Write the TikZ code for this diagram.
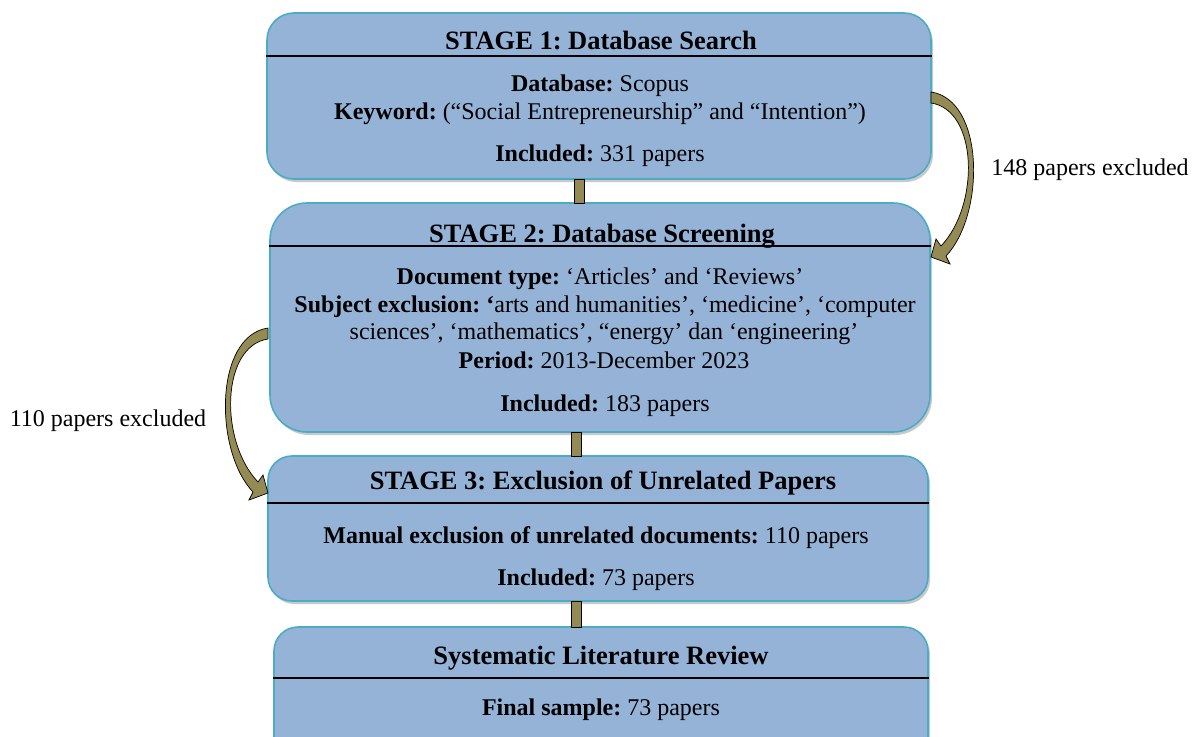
\documentclass[tikz,border=0pt]{standalone}
\usepackage{fontspec}
\setmainfont{Liberation Serif}
\frenchspacing
\usetikzlibrary{shadows}
\definecolor{boxfill}{RGB}{149,179,215}
\definecolor{boxline}{RGB}{75,172,198}
\definecolor{olive}{RGB}{148,138,84}
\tikzset{
  box/.style={draw=boxline, line width=1.6pt, fill=boxfill, rectangle, inner sep=0pt,
    drop shadow={shadow xshift=2pt, shadow yshift=-3pt, opacity=0.35, fill=black!60}},
  sep/.style={draw=black, line width=1.6pt},
  conn/.style={draw=black, line width=0.9pt, fill=olive, rectangle, inner sep=0pt},
  barrow/.style={draw=black, line width=0.7pt, fill=olive},
  title/.style={font=\fontsize{26.5}{30}\selectfont\bfseries, inner sep=0pt, anchor=base},
  txt/.style={font=\fontsize{24}{28}\selectfont, inner sep=0pt, yshift=-2.5pt},
  lbl/.style={font=\fontsize{24}{28}\selectfont, inner sep=0pt, yshift=-2.5pt}
}
\begin{document}
\begin{tikzpicture}[x=1pt,y=-1pt]
\useasboundingbox (0,0) rectangle (1196,736);
\clip (0,0) rectangle (1196,736);
\fill[white] (0,0) rectangle (1196,736);
% boxes
\node[box, rounded corners=27pt, minimum width=664pt, minimum height=166pt] (b1) at (599,96) {};
\node[box, rounded corners=37pt, minimum width=660pt, minimum height=229pt] (b2) at (600,317.5) {};
\node[box, rounded corners=24pt, minimum width=660pt, minimum height=145pt] (b3) at (598,528.5) {};
\node[box, rounded corners=24pt, minimum width=654pt, minimum height=143pt] (b4) at (601,698.5) {};
% separators
\draw[sep] (b1.west |- 0,56) -- (b1.east |- 0,56);
\draw[sep] (b2.west |- 0,246) -- (b2.east |- 0,246);
\draw[sep] (b3.west |- 0,503) -- (b3.east |- 0,503);
\draw[sep] (b4.west |- 0,678) -- (b4.east |- 0,678);
% connectors
\node[conn, minimum width=10pt, minimum height=24pt] (c1) at (579,191) {};
\node[conn, minimum width=10pt, minimum height=24pt] (c2) at (576,444) {};
\node[conn, minimum width=10pt, minimum height=26pt] (c3) at (576,614) {};
% box 1 text
\node[title] (t1) at (601,49.3) {STAGE 1: Database Search};
\node[txt] (t1a) at (600,83) {\textbf{Database:} Scopus};
\node[txt] (t1b) at (600,111) {\textbf{Keyword:} (“Social Entrepreneurship” and “Intention”)};
\node[txt] (t1c) at (600,153) {\textbf{Included:} 331 papers};
% box 2 text
\node[title] (t2) at (602,242.5) {STAGE 2: Database Screening};
\node[txt] (t2a) at (600,276) {\textbf{Document type:} ‘Articles’ and ‘Reviews’};
\node[txt] (t2b) at (605,304) {\textbf{Subject exclusion: ‘}arts and humanities’, ‘medicine’, ‘computer};
\node[txt] (t2c) at (604,331) {sciences’, ‘mathematics’, “energy’ dan ‘engineering’};
\node[txt] (t2d) at (604,358) {\textbf{Period:} 2013-December 2023};
\node[txt] (t2e) at (605,403) {\textbf{Included:} 183 papers};
% box 3 text
\node[title] (t3) at (603,489.3) {STAGE 3: Exclusion of Unrelated Papers};
\node[txt] (t3a) at (596,535) {\textbf{Manual exclusion of unrelated documents:} 110 papers};
\node[txt] (t3b) at (596,577) {\textbf{Included:} 73 papers};
% box 4 text
\node[title] (t4) at (601,664.5) {Systematic Literature Review};
\node[txt] (t4a) at (601,707) {\textbf{Final sample:} 73 papers};
% curved block arrows
\path[barrow] (931,92) .. controls (985,100) and (985,215) .. (946,256)
  -- (950,264) -- (931,257) -- (936,239) -- (941,246)
  .. controls (980,205) and (978,110) .. (931,103) -- cycle;
\path[barrow] (268,328) .. controls (214,336) and (214,451) .. (253,492)
  -- (249,500) -- (268,493) -- (263,475) -- (258,482)
  .. controls (219,441) and (221,346) .. (268,339) -- cycle;
% labels
\node[lbl] (l1) at (1090,167) {148 papers excluded};
\node[lbl] (l2) at (108,418) {110 papers excluded};
\end{tikzpicture}
\end{document}
